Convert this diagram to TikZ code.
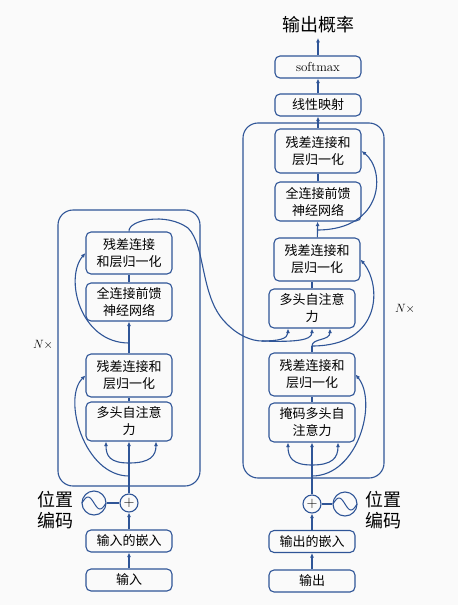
\documentclass[tikz,border=0pt]{standalone}
\usepackage{fontspec}
\newfontfamily\cjk{Noto Sans CJK SC}
\usetikzlibrary{arrows.meta}
\definecolor{linecol}{HTML}{2F5597}

\begin{document}
\begin{tikzpicture}[x=1pt, y=-1pt, line width=1.1pt, color=linecol,
  every node/.style={text=black},
  blk/.style={draw=linecol, rounded corners=5pt, minimum width=86pt, minimum height=39pt,
    inner sep=0pt, align=center, font=\cjk\fontsize{13}{17}\selectfont},
  blkone/.style={blk, minimum height=22pt},
  sumc/.style={draw=linecol, circle, minimum size=18pt, inner sep=0pt,
    font=\fontsize{15}{15}\selectfont},
  wavec/.style={draw=linecol, circle, minimum size=24pt, inner sep=0pt},
  big/.style={font=\cjk\fontsize{18}{21}\selectfont, align=center, inner sep=0pt},
  arr/.style={-{Latex[length=4.5pt,width=4pt]}},
]
  \fill[black!2] (0,0) rectangle (458,605);
  \useasboundingbox (0,0) rectangle (458,605);

  % frames
  \draw[rounded corners=15pt] (58,210) rectangle (200,486);
  \draw[rounded corners=15pt] (243,123) rectangle (384,478);

  % encoder
  \node[blkone] (eIn)   at (129,580)   {输入};
  \node[blkone] (eEmb)  at (129,541)   {输入的嵌入};
  \node[sumc]   (ePlus) at (129,503)   {$+$};
  \node[wavec]  (eSin)  at (94,503)    {};
  \node[blk]    (eAtt)  at (129,421.5) {多头自注意\\力};
  \node[blk, minimum height=43pt] (eNorm1) at (129,375.5) {残差连接和\\层归一化};
  \node[blk, minimum height=38pt] (eFF)    at (129,302)   {全连接前馈\\神经网络};
  \node[blk, minimum height=42pt] (eNorm2) at (129,253)   {残差连接\\和层归一化};
  \node[big]    (ePos)  at (55,510)    {位置\\编码};
  \node[font=\fontsize{12}{14}\selectfont] (eN) at (43,345) {$N\times$};

  % decoder
  \node[blkone] (dOut)  at (312,581)   {输出};
  \node[blkone] (dEmb)  at (312,541.5) {输出的嵌入};
  \node[sumc]   (dPlus) at (312,504)   {$+$};
  \node[wavec]  (dSin)  at (345,504)   {};
  \node[blk]    (dMask) at (312,422.5) {掩码多头自\\注意力};
  \node[blk, minimum height=43pt] (dNorm1) at (312,374.5) {残差连接和\\层归一化};
  \node[blk]    (dAtt)  at (312,308.5) {多头自注意\\力};
  \node[blk, minimum height=43pt] (dNorm2) at (317,259.5) {残差连接和\\层归一化};
  \node[blk]    (dFF)   at (318,201.5) {全连接前馈\\神经网络};
  \node[blk, minimum height=44pt] (dNorm3) at (318,151)   {残差连接和\\层归一化};
  \node[blkone] (dLin)  at (318,105)   {线性映射};
  \node[blkone, font=\fontsize{13}{15}\selectfont] (dSoft) at (318,67) {softmax};
  \node[big, inner sep=4pt] (dTitle) at (318,25) {输出概率};
  \node[big]    (dPos)  at (383,510)   {位置\\编码};
  \node[font=\fontsize{12}{14}\selectfont] (dN) at (405,309) {$N\times$};

  % sine marks
  \foreach \c in {eSin,dSin}
    \draw[shift={(\c.center)}, domain=-12:12, samples=40, line width=1pt]
      plot (\x, {6*sin(\x*15)});

  % encoder connectors
  \draw[arr] (eIn) -- (eEmb);
  \draw[arr] (eEmb) -- (ePlus);
  \draw (eSin) -- (ePlus);
  \draw[arr] (ePlus) -- (eAtt);
  \coordinate (eFork) at (129,463);
  \draw[arr] (eFork) .. controls (110,463) and (106,456) .. ([xshift=-23pt]eAtt.south);
  \draw[arr] (eFork) .. controls (150,463) and (156,456) .. ([xshift=27pt]eAtt.south);
  \coordinate (eRes1) at (129,476);
  \draw[arr] (eRes1) .. controls (84,476) and (62,398) .. (eNorm1.west);
  \coordinate (eRes2) at (129,343);
  \draw[arr] (eRes2) .. controls (80,343) and (64,278) .. (eNorm2.west);
  \draw (eAtt) -- (eNorm1);
  \draw[arr] (eNorm1) -- (eFF);
  \draw (eFF) -- (eNorm2);

  % encoder to decoder
  \coordinate (eSplit) at (262,341);
  \draw (eNorm2.north) .. controls (128,220) and (166,212) .. (188,228)
    .. controls (206,246) and (200,296) .. (225,322)
    .. controls (238,336) and (252,341) .. (eSplit);
  \draw[arr] (eSplit) .. controls (278,341) and (288,339) .. ([xshift=-24pt]dAtt.south);
  \draw[arr] (eSplit) .. controls (292,342) and (312,341) .. (dAtt.south);

  % decoder connectors
  \draw[arr] (dOut) -- (dEmb);
  \draw[arr] (dEmb) -- (dPlus);
  \draw (dPlus) -- (dSin);
  \draw[arr] (dPlus) -- (dMask);
  \coordinate (dFork) at (312,465);
  \draw[arr] (dFork) .. controls (293,465) and (288,458) .. ([xshift=-24pt]dMask.south);
  \draw[arr] (dFork) .. controls (332,465) and (338,458) .. ([xshift=26pt]dMask.south);
  \coordinate (dRes1) at (312,476);
  \draw[arr] (dRes1) .. controls (358,476) and (378,402) .. (dNorm1.east);
  \draw (dMask) -- (dNorm1);
  \coordinate (dUp) at (312,346);
  \draw (dNorm1.north) -- (dUp);
  \draw[arr] (dUp) .. controls (312,338) and (330,341) .. ([xshift=18pt]dAtt.south);
  \draw[arr] (dUp) .. controls (382,346) and (382,285) .. (dNorm2.east);
  \draw (dAtt.north) -- (dAtt.north |- dNorm2.south);
  \draw[arr] (dNorm2) -- (dFF);
  \coordinate (dRes3) at (317,230);
  \draw[arr] (dRes3) .. controls (384,230) and (386,170) .. (dNorm3.east);
  \draw (dFF) -- (dNorm3);
  \draw[arr] (dNorm3) -- (dLin);
  \draw[arr] (dLin) -- (dSoft);
  \draw[arr] (dSoft) -- (dTitle);
\end{tikzpicture}
\end{document}
